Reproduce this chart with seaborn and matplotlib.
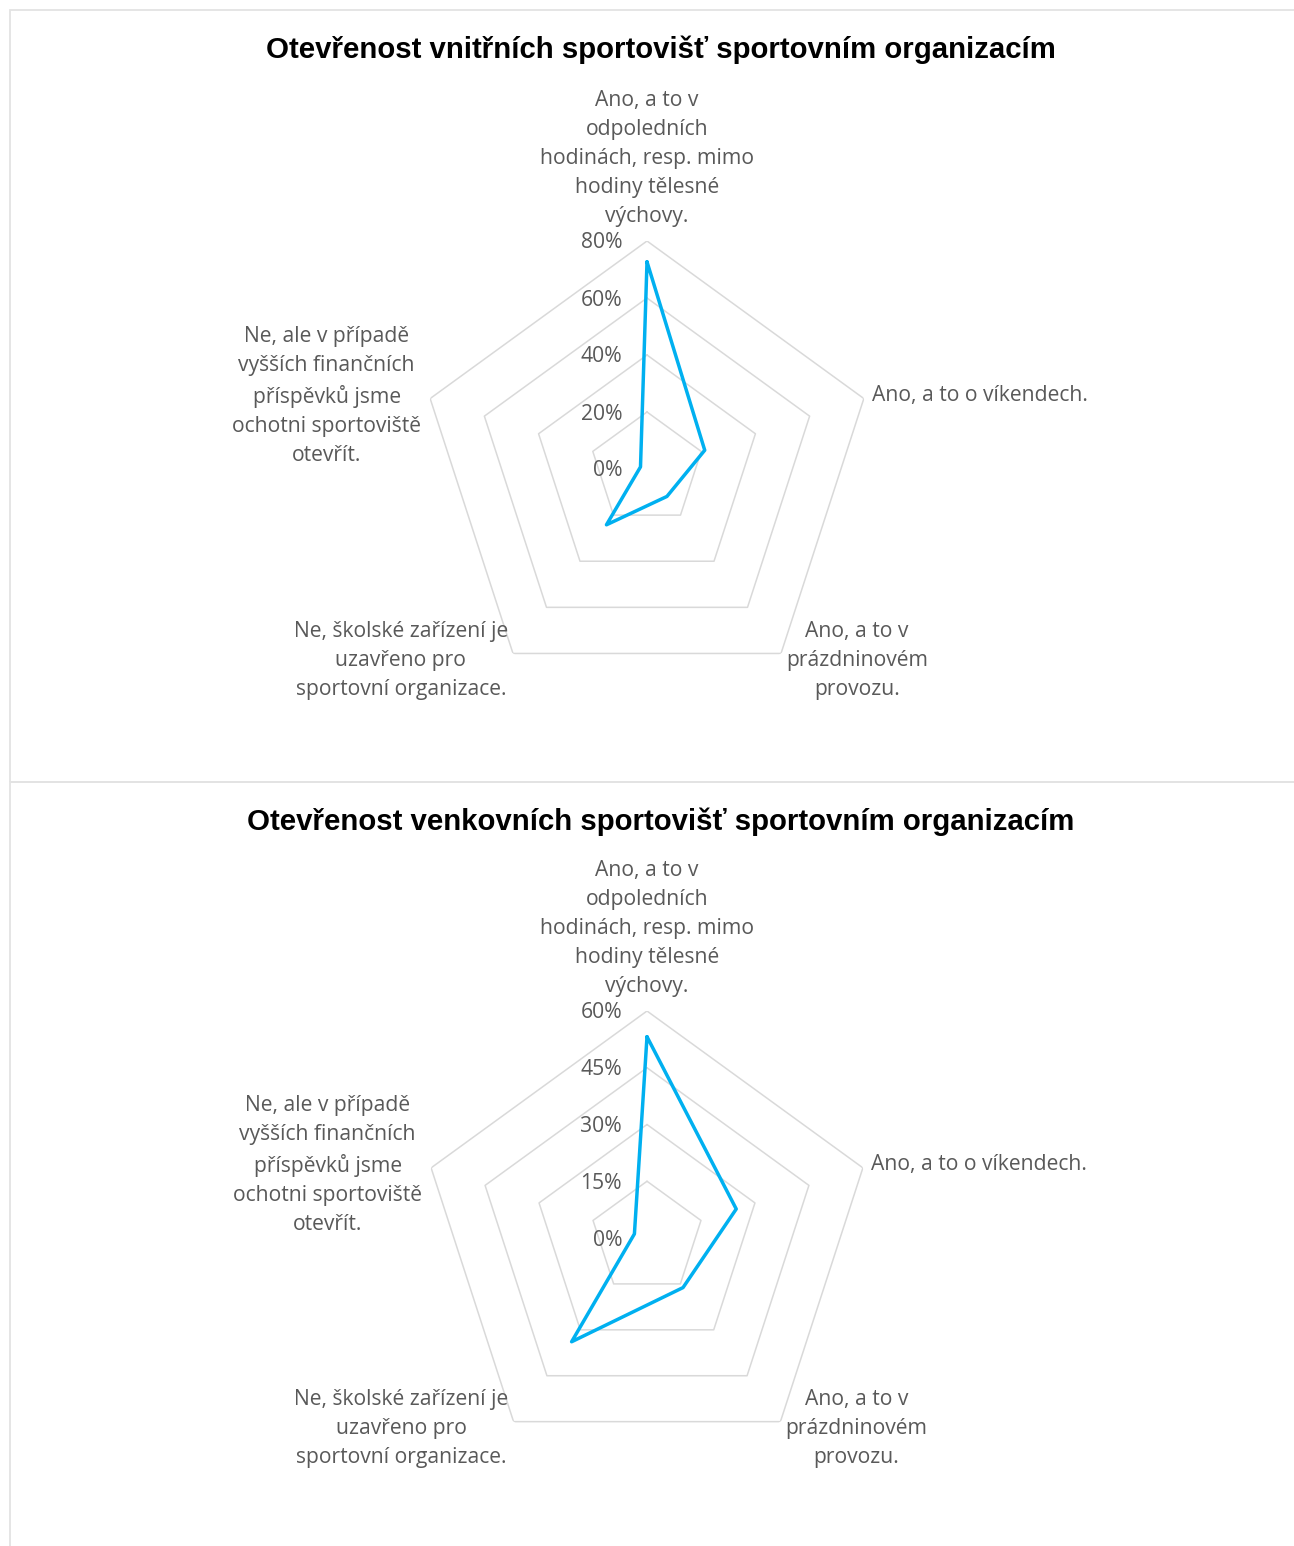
import numpy as np
import pandas as pd
import matplotlib
matplotlib.use("Agg")
import matplotlib.pyplot as plt
from matplotlib.patches import Rectangle
import seaborn as sns

# ---- data ----
categories = [
    "Ano, a to v\nodpoledních\nhodinách, resp. mimo\nhodiny tělesné\nvýchovy.",
    "Ano, a to o víkendech.",
    "Ano, a to v\nprázdninovém\nprovozu.",
    "Ne, školské zařízení je\nuzavřeno pro\nsportovní organizace.",
    "Ne, ale v případě\nvyšších finančních\npříspěvků jsme\nochotni sportoviště\notevřít.",
]
indoor_values = [72.7, 21.3, 11.9, 24.2, 2.4]
outdoor_values = [53.2, 24.8, 16.2, 33.9, 3.5]
indoor_ticks = [0, 20, 40, 60, 80]
outdoor_ticks = [0, 15, 30, 45, 60]
titles = [
    "Otevřenost vnitřních sportovišť sportovním organizacím",
    "Otevřenost venkovních sportovišť sportovním organizacím",
]

# ---- style ----
sns.set_style("white")
plt.rcParams["font.family"] = ["Open Sans", "DejaVu Sans"]

LINE_C = "#00b0f0"
GRID_C = "#d9d9d9"
TEXT_C = "#595959"
W, H = 1294, 1546
fig = plt.figure(figsize=(W / 100, H / 100), dpi=100)

# chart frames
for (y0, y1) in [(10, 782), (782, 1560)]:
    fig.patches.append(Rectangle((10 / W, 1 - y1 / H), (W + 20) / W, (y1 - y0) / H,
                                 transform=fig.transFigure, fill=False,
                                 edgecolor="#e3e3e3", linewidth=1.3))

n = len(categories)
theta = np.linspace(0, 2 * np.pi, n, endpoint=False)
theta_closed = np.append(theta, theta[0])

# label offsets in pixels: (dx, dy, ha, va)
label_fmt = [
    (0, 14, "center", "bottom"),
    (8, 3, "left", "center"),
    (5, -7, "left", "center"),
    (-5, -7, "right", "center"),
    (-9, 3, "right", "center"),
]

FS = 15.2

def radar(center_y, radius, values, ticks, title, title_y):
    cx = 647
    rect = [(cx - radius) / W, 1 - (center_y + radius) / H, 2 * radius / W, 2 * radius / H]
    ax = fig.add_axes(rect, projection="polar")
    ax.set_theta_zero_location("N")
    ax.set_theta_direction(-1)
    ax.set_ylim(0, ticks[-1])
    ax.set_facecolor("none")
    ax.grid(False)
    ax.set_xticks([])
    ax.set_yticks([])
    ax.spines["polar"].set_visible(False)
    # pentagon gridlines
    for t in ticks[1:]:
        ax.plot(theta_closed, [t] * (n + 1), color=GRID_C, linewidth=1.1, zorder=1)
    # data line
    df = pd.DataFrame({"theta": theta_closed, "value": np.append(values, values[0])})
    sns.lineplot(data=df, x="theta", y="value", ax=ax, sort=False, estimator=None,
                 color=LINE_C, linewidth=2.5, zorder=3)
    ax.set_xlabel("")
    ax.set_ylabel("")
    ax.set_ylim(0, ticks[-1])
    # tick labels
    for t in ticks:
        ax.annotate(f"{t}%", xy=(0, t), xytext=(-25, -2), textcoords="offset pixels",
                    ha="right", va="center", fontsize=FS, color=TEXT_C)
    # category labels
    for th, lab, (dx, dy, ha, va) in zip(theta, categories, label_fmt):
        ax.annotate(lab, xy=(th, ticks[-1]), xytext=(dx, dy), textcoords="offset pixels",
                    ha=ha, va=va, multialignment="center", fontsize=FS,
                    color=TEXT_C, linespacing=1.5, annotation_clip=False)
    fig.text(661 / W, 1 - title_y / H, title, ha="center", va="center",
             fontsize=21.2, fontweight="bold", color="black",
             family=["Liberation Sans", "DejaVu Sans"])
    return ax

radar(469, 228, indoor_values, indoor_ticks, titles[0], 50)
radar(1238, 227, outdoor_values, outdoor_ticks, titles[1], 822)

fig.savefig("out.png", dpi=100, facecolor="white")
